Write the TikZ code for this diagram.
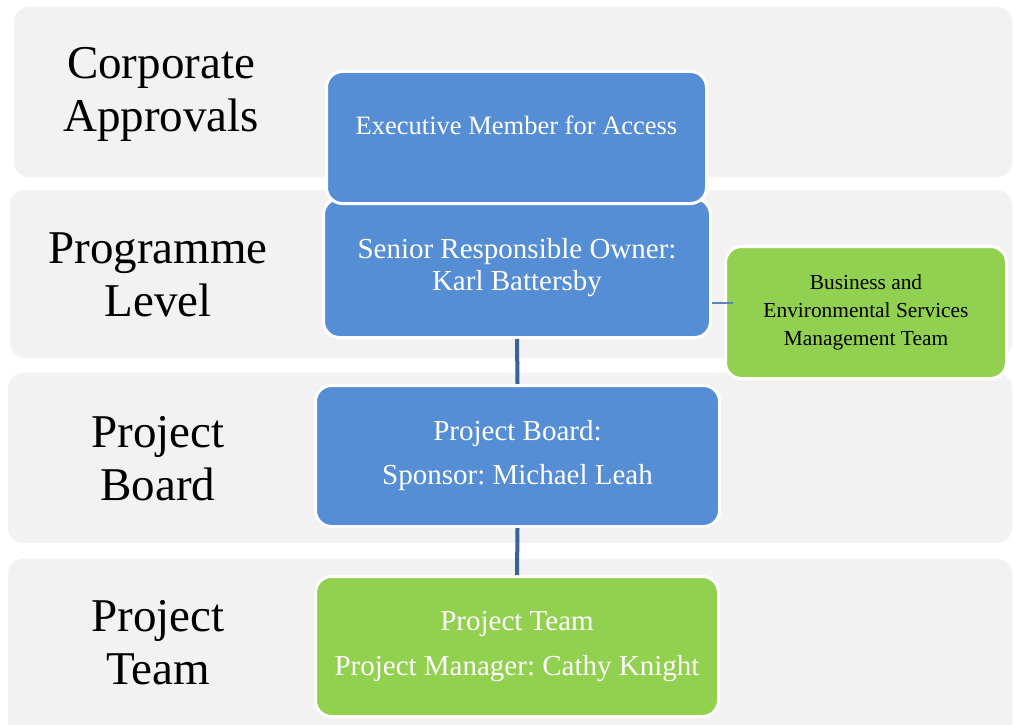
\documentclass[tikz,border=0pt]{standalone}
\usepackage{fontspec}
\setmainfont{Liberation Serif}
\frenchspacing
\definecolor{bandgray}{HTML}{F2F2F2}
\definecolor{boxblue}{HTML}{558ED5}
\definecolor{boxgreen}{HTML}{92D050}
\definecolor{linkdark}{HTML}{3A6399}
\definecolor{linkthin}{HTML}{5B84B8}
\tikzset{
  band/.style={fill=bandgray, draw=none, rounded corners=15pt},
  lvl/.style={align=center, font=\fontsize{47}{53}\selectfont, text=black, inner sep=0pt},
  orgbox/.style={draw=white, line width=3pt, rounded corners=16pt, align=center, inner sep=0pt},
  bluebox/.style={orgbox, fill=boxblue, text=white},
  greenbox/.style={orgbox, fill=boxgreen},
  thick link/.style={draw=linkdark, line width=4pt},
  thin link/.style={draw=linkthin, line width=1.5pt}
}
\begin{document}
\begin{tikzpicture}[x=1pt,y=-1pt]
\useasboundingbox (0,0) rectangle (1013,725);
\fill[white] (0,0) rectangle (1013,725);
% bands
\path[band] (14,7) rectangle (1012,177);
\path[band] (10,190) rectangle (1012,358);
\path[band] (8,373) rectangle (1012,543);
\path[band] (8,559) rectangle (1012,740);
% level labels
\node[lvl] (lcorp) at (161,94) {Corporate\\Approvals};
\node[lvl] (lprog) at (158,275) {Programme\\Level};
\node[lvl] (lboard) at (158,459) {Project\\Board};
\node[lvl] (lteam) at (158,643) {Project\\Team};
% boxes
\node[bluebox, minimum width=387pt, minimum height=139pt,
      font=\fontsize{29}{32}\selectfont] (sro) at (517,268)
  {Senior Responsible Owner:\\Karl Battersby};
\node[bluebox, minimum width=380pt, minimum height=132pt,
      font=\fontsize{26.5}{30}\selectfont, text height=18pt, text depth=25pt] (exec) at (516.5,137.5)
  {Executive Member for Access};
\node[greenbox, minimum width=281pt, minimum height=132pt,
      font=\fontsize{21.4}{28}\selectfont, text=black] (bes) at (866,312.5)
  {Business and\\Environmental Services\\Management Team};
\node[bluebox, minimum width=404pt, minimum height=141pt,
      font=\fontsize{29}{44}\selectfont] (pb) at (517.5,456)
  {Project Board:\\Sponsor: Michael Leah};
\node[greenbox, minimum width=403pt, minimum height=140pt,
      font=\fontsize{29}{45}\selectfont, text=white] (pt) at (517,646.5)
  {Project Team\\Project Manager: Cathy Knight};
% connectors
\coordinate (besin) at (733,303);
\draw[thin link] (sro.east |- besin) -- (besin);
\draw[thick link] (sro.south) -- (pb.north);
\draw[thick link] (pb.south) -- (pt.north);
\end{tikzpicture}
\end{document}
